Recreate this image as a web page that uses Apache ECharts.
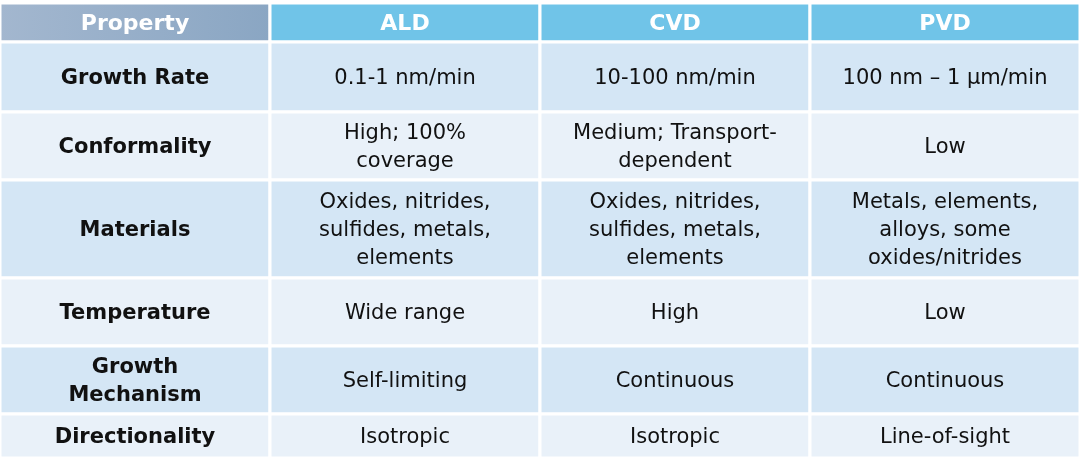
<!DOCTYPE html>
<html>
<head>
<meta charset="utf-8">
<script src="https://cdn.jsdelivr.net/npm/echarts@6/dist/echarts.min.js"></script>
<style>html,body{margin:0;padding:0;background:#fff}#chart{width:1080px;height:465px}</style>
</head>
<body>
<div id="chart"></div>
<script>
// table content
const headers = ['Property', 'ALD', 'CVD', 'PVD'];
const properties = ['Growth Rate', 'Conformality', 'Materials', 'Temperature', 'Growth\nMechanism', 'Directionality'];
const ald = ['0.1-1 nm/min', 'High; 100%\ncoverage', 'Oxides, nitrides,\nsulfides, metals,\nelements', 'Wide range', 'Self-limiting', 'Isotropic'];
const cvd = ['10-100 nm/min', 'Medium; Transport-\ndependent', 'Oxides, nitrides,\nsulfides, metals,\nelements', 'High', 'Continuous', 'Isotropic'];
const pvd = ['100 nm \u2013 1 \u00b5m/min', 'Low', 'Metals, elements,\nalloys, some\noxides/nitrides', 'Low', 'Continuous', 'Line-of-sight'];

// layout: row edges in pixels (header + 6 rows)
const rowEdges = [3, 42, 112, 180, 278, 346, 414, 458];

const cells = [];
headers.forEach((h, c) => cells.push([c, 0, h]));
[properties, ald, cvd, pvd].forEach((col, c) => {
  col.forEach((t, r) => cells.push([c, r + 1, t]));
});

function cellFill(c, r) {
  if (r === 0) {
    return c === 0
      ? new echarts.graphic.LinearGradient(0, 0, 1, 0, [{offset: 0, color: '#a3b7cf'}, {offset: 1, color: '#8aa6c3'}])
      : '#70c4e8';
  }
  return r % 2 === 1 ? '#d4e6f5' : '#e9f1f9';
}

const chart = echarts.init(document.getElementById('chart'));
chart.setOption({
  animation: false,
  grid: {left: 0, right: 0, top: 0, bottom: 0},
  xAxis: {type: 'value', min: 0, max: 4, show: false},
  yAxis: {type: 'value', min: 0, max: 465, inverse: true, show: false},
  series: [{
    type: 'custom',
    data: cells,
    renderItem: function (params, api) {
      const c = api.value(0), r = api.value(1);
      const text = cells[params.dataIndex][2];
      const p0 = api.coord([c, rowEdges[r]]);
      const p1 = api.coord([c + 1, rowEdges[r + 1]]);
      const header = r === 0;
      return {
        type: 'group',
        children: [{
          type: 'rect',
          shape: {x: p0[0], y: p0[1], width: p1[0] - p0[0], height: p1[1] - p0[1]},
          style: {fill: cellFill(c, r), stroke: '#ffffff', lineWidth: 3}
        }, {
          type: 'text',
          x: (p0[0] + p1[0]) / 2,
          y: (p0[1] + p1[1]) / 2 + 2,
          style: {
            text: text,
            align: 'center',
            verticalAlign: 'middle',
            fontFamily: 'DejaVu Sans',
            fontSize: header ? 22 : 21,
            lineHeight: 28,
            fontWeight: (header || c === 0) ? 'bold' : 'normal',
            fill: header ? '#ffffff' : '#111111'
          }
        }]
      };
    }
  }]
});
</script>
</body>
</html>
